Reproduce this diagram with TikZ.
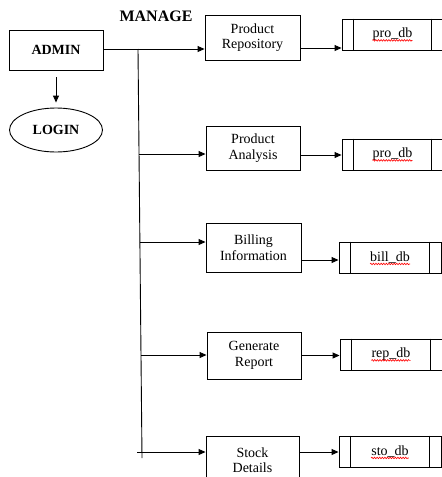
\documentclass[tikz,border=0pt]{standalone}
\usepackage{fontspec}
\setmainfont{Liberation Serif}
\usetikzlibrary{arrows.meta,shapes.geometric,decorations.pathmorphing}
\begin{document}
\begin{tikzpicture}[x=1pt,y=-1pt,
  every node/.style={inner sep=0pt},
  box/.style={draw,line width=0.9pt,align=center,font=\fontsize{14}{15.5}\selectfont},
  dbbox/.style={draw,line width=0.9pt,minimum height=31pt},
  dbtext/.style={font=\fontsize{14}{15}\selectfont},
  arr/.style={-{Triangle[length=7pt,width=6pt]},line width=0.9pt},
  plain/.style={line width=0.9pt},
  squig/.style={red,line width=0.6pt,decorate,decoration={snake,amplitude=0.8pt,segment length=2.6pt}}
]
\useasboundingbox (0,0) rectangle (442,477);
\clip (0,0) rectangle (442,477);

% left part
\node[box,minimum width=94pt,minimum height=40pt,font=\fontsize{14}{15}\selectfont\bfseries] (adm) at (56,50) {ADMIN};
\node[draw,ellipse,line width=0.9pt,minimum width=93pt,minimum height=44pt,font=\fontsize{14}{15}\selectfont\bfseries] (login) at (56,130) {LOGIN};
\node[font=\fontsize{16}{17}\selectfont\bfseries] (manage) at (156,16) {MANAGE};

% process boxes
\node[box,minimum width=95pt,minimum height=45pt] (pr) at (252.5,37.5) {Product\\Repository};
\node[box,minimum width=94pt,minimum height=44pt] (pa) at (253,148) {Product\\Analysis};
\node[box,minimum width=95pt,minimum height=49pt] (bi) at (253.5,247.5) {Billing\\Information};
\node[box,minimum width=94pt,minimum height=47pt] (gr) at (254,355.5) {Generate\\Report};
\node[box,minimum width=93pt,minimum height=48pt] (sd) at (252.5,460) {Stock\\Details};

% data stores
\node[dbbox,minimum width=101pt] (d1) at (392.5,34.5) {};
\node[dbbox,minimum width=101pt] (d2) at (392.5,154.5) {};
\node[dbbox,minimum width=102pt] (d3) at (390,257.5) {};
\node[dbbox,minimum width=102pt] (d4) at (391,354.5) {};
\node[dbbox,minimum width=102pt] (d5) at (390,451.5) {};
\foreach \d in {d1,d2,d3,d4,d5}{
  \draw[plain] ([xshift=12pt]\d.north west) -- ([xshift=12pt]\d.south west);
  \draw[plain] ([xshift=-12pt]\d.north east) -- ([xshift=-12pt]\d.south east);
}
\node[dbtext] (t1) at (d1) {pro\_db};
\node[dbtext] (t2) at (d2) {pro\_db};
\node[dbtext] (t3) at (d3) {bill\_db};
\node[dbtext] (t4) at (d4) {rep\_db};
\node[dbtext] (t5) at (d5) {sto\_db};
\foreach \t in {t1,t2,t3,t4,t5}{
  \draw[squig] ([yshift=-2.5pt]\t.base west) -- ([yshift=-2.5pt]\t.base east);
}

% admin to login
\draw[arr,shorten <=7pt,shorten >=5pt] (adm.south) -- (login.north);

% trunk
\coordinate (top) at (138,49);
\coordinate (bot) at (142,458);
\draw[plain] (top) -- (bot);
\path (adm.east) ++(0,-1) coordinate (a0);
\draw[arr] (a0) -- (a0 -| pr.west);
\coordinate (b2) at (139,154);
\coordinate (b3) at (139.9,242);
\coordinate (b4) at (141,355);
\coordinate (b5) at (137,452);
\draw[arr] (b2) -- (b2 -| pa.west);
\draw[arr] (b3) -- (b3 -| bi.west);
\draw[arr] (b4) -- (b4 -| gr.west);
\draw[arr] (b5) -- (b5 -| sd.west);

% boxes to data stores
\path (pr.east) ++(0,10.5) coordinate (c1);
\path (pa.east) ++(0,7) coordinate (c2);
\path (bi.east) ++(0,12.5) coordinate (c3);
\path (gr.east) ++(0,0) coordinate (c4);
\path (sd.east) ++(0,-8) coordinate (c5);
\draw[arr] (c1) -- (c1 -| d1.west);
\draw[arr] (c2) -- (c2 -| d2.west);
\draw[arr] (c3) -- (c3 -| d3.west);
\draw[arr] (c4) -- (c4 -| d4.west);
\draw[arr] (c5) -- (c5 -| d5.west);
\end{tikzpicture}
\end{document}
